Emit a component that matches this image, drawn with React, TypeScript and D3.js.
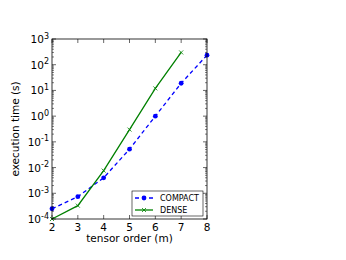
import React from 'react';
import * as d3 from 'd3';

const orders = [2, 3, 4, 5, 6, 7, 8];
const compactTimes = [2.5e-4, 7.4e-4, 4e-3, 0.052, 1.0, 19, 235];
const denseOrders = [2, 3, 4, 5, 6, 7];
const denseTimes = [1e-4, 3.3e-4, 7.6e-3, 0.3, 12, 300];
const xTicks = [2, 3, 4, 5, 6, 7, 8];
const yExps = [-4, -3, -2, -1, 0, 1, 2, 3];

const W = 346;
const H = 260;
const margin = { top: 39, right: 139, bottom: 41, left: 52 };
const FONT = 'DejaVu Sans, sans-serif';

const App = () => {
  const iw = W - margin.left - margin.right;
  const ih = H - margin.top - margin.bottom;

  const x = d3.scaleLinear().domain([2, 8]).range([0, iw]);
  const y = d3.scaleLog().domain([1e-4, 1e3]).range([ih, 0]);

  const compactPts: [number, number][] = orders.map((m, i) => [m, compactTimes[i]]);
  const densePts: [number, number][] = denseOrders.map((m, i) => [m, denseTimes[i]]);

  const line = d3.line<[number, number]>()
    .x(d => x(d[0]))
    .y(d => y(d[1]));

  // minor log ticks
  const minor: number[] = [];
  for (let e = -4; e < 3; e++) {
    for (let k = 2; k <= 9; k++) minor.push(k * Math.pow(10, e));
  }

  return (
    <svg width={W} height={H} style={{ position: 'absolute', left: 0, top: 0 }}>
      <rect width={W} height={H} fill="#fff" />
      <defs>
        <clipPath id="plot-clip">
          <rect x={-4} y={-4} width={iw + 8} height={ih + 8} />
        </clipPath>
      </defs>
      <g transform={`translate(${margin.left},${margin.top})`} fontFamily={FONT}>
        {/* data */}
        <g clipPath="url(#plot-clip)">
          <path d={line(compactPts) || ''} fill="none" stroke="#0000ff" strokeWidth={1.3} strokeDasharray="4,3" />
          {compactPts.map((d, i) => (
            <circle key={i} cx={x(d[0])} cy={y(d[1])} r={2.4} fill="#0000ff" />
          ))}
          <path d={line(densePts) || ''} fill="none" stroke="#008000" strokeWidth={1.3} />
          {densePts.map((d, i) => (
            <path key={i} d={`M${x(d[0]) - 2},${y(d[1]) - 2}L${x(d[0]) + 2},${y(d[1]) + 2}M${x(d[0]) - 2},${y(d[1]) + 2}L${x(d[0]) + 2},${y(d[1]) - 2}`}
              stroke="#008000" strokeWidth={0.8} />
          ))}
        </g>

        {/* ticks inside, all four sides */}
        {xTicks.map(t => (
          <g key={t}>
            <line x1={x(t)} x2={x(t)} y1={ih} y2={ih - 4} stroke="#000" strokeWidth={0.6} />
            <line x1={x(t)} x2={x(t)} y1={0} y2={4} stroke="#000" strokeWidth={0.6} />
            <text x={x(t)} y={ih + 12} textAnchor="middle" fontSize={10.5}>{t}</text>
          </g>
        ))}
        {yExps.map(e => {
          const v = Math.pow(10, e);
          return (
            <g key={e}>
              <line x1={0} x2={4} y1={y(v)} y2={y(v)} stroke="#000" strokeWidth={0.6} />
              <line x1={iw} x2={iw - 4} y1={y(v)} y2={y(v)} stroke="#000" strokeWidth={0.6} />
              <text x={-3} y={y(v) + 4} textAnchor="end" fontSize={10.5}>
                10<tspan fontSize={8} dy={-4.5}>{e}</tspan>
              </text>
            </g>
          );
        })}
        {minor.map((v, i) => (
          <g key={i}>
            <line x1={0} x2={2} y1={y(v)} y2={y(v)} stroke="#000" strokeWidth={0.5} />
            <line x1={iw} x2={iw - 2} y1={y(v)} y2={y(v)} stroke="#000" strokeWidth={0.5} />
          </g>
        ))}

        <rect x={0} y={0} width={iw} height={ih} fill="none" stroke="#000" strokeWidth={0.8} />

        {/* axis labels */}
        <text x={iw / 2} y={ih + 23} textAnchor="middle" fontSize={10.5}>tensor order (m)</text>
        <text transform={`translate(${-33},${ih / 2}) rotate(-90)`} textAnchor="middle" fontSize={10.5}>execution time (s)</text>

        {/* legend */}
        <g transform={`translate(${80},${152})`}>
          <rect x={0} y={0} width={71} height={25} fill="#fff" stroke="#000" strokeWidth={0.6} />
          <line x1={3} x2={21} y1={7} y2={7} stroke="#0000ff" strokeWidth={1.3} strokeDasharray="4,3" />
          <circle cx={12} cy={7} r={2.4} fill="#0000ff" />
          <text x={28} y={10} fontSize={8}>COMPACT</text>
          <line x1={3} x2={21} y1={19} y2={19} stroke="#008000" strokeWidth={1.3} />
          <path d="M10,17L14,21M10,21L14,17" stroke="#008000" strokeWidth={0.8} />
          <text x={28} y={22} fontSize={8}>DENSE</text>
        </g>
      </g>
    </svg>
  );
};

export default App;
